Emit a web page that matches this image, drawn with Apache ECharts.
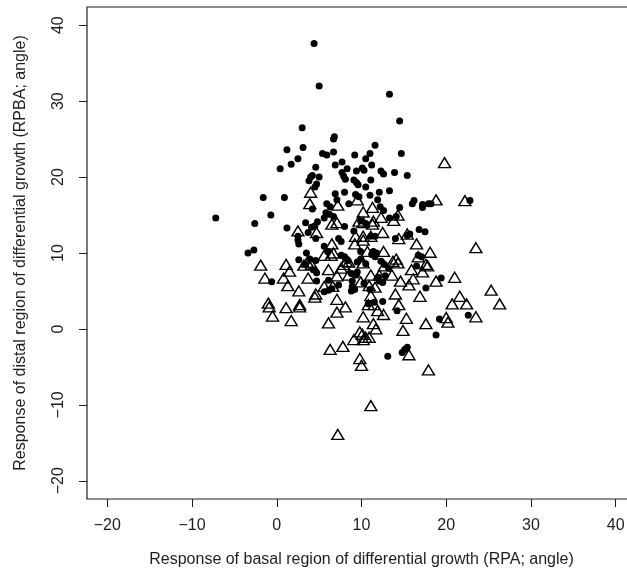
<!DOCTYPE html>
<html>
<head>
<meta charset="utf-8">
<script src="https://cdn.jsdelivr.net/npm/echarts@6/dist/echarts.min.js"></script>
<style>
html,body{margin:0;padding:0;background:#fff;}
#chart{width:627px;height:580px;}
</style>
</head>
<body>
<div id="chart"></div>
<script>
// tick values shared by both axes
var tickValues = [-20, -10, 0, 10, 20, 30, 40];

// filled dots: [RPA, RPBA]
var filledPoints = [
	[4.4,37.6],[5.0,32.0],[13.3,30.9],[14.5,27.4],[3.0,26.5],[6.8,25.3],[6.7,25.0],[1.2,23.6],[3.1,23.9],[11.6,24.2],
	[5.4,23.1],[5.9,22.9],[6.7,23.3],[14.7,23.1],[11.0,23.1],[9.2,22.9],[2.5,22.4],[10.5,22.4],[1.7,21.7],[7.7,22.0],
	[6.9,21.6],[11.2,21.6],[4.6,21.3],[0.4,21.1],[10.1,21.2],[9.4,20.8],[8.3,21.1],[10.3,20.9],[12.3,20.8],[12.6,20.4],
	[13.9,20.6],[7.7,20.6],[15.4,20.2],[4.2,20.2],[4.0,20.0],[5.0,20.0],[7.9,20.1],[8.1,19.7],[11.1,19.6],[9.1,19.6],
	[9.4,19.3],[3.8,19.5],[4.7,19.1],[9.6,19.0],[10.5,18.7],[4.5,18.7],[8.0,18.0],[6.9,17.8],[12.1,18.0],[13.3,18.2],
	[9.3,17.7],[11.0,17.6],[9.7,17.4],[-1.6,17.3],[0.9,17.3],[7.1,17.0],[11.9,17.0],[16.2,16.9],[16.0,16.5],[17.2,16.4],
	[17.2,16.0],[17.9,16.5],[18.2,16.5],[22.8,16.9],[14.5,16.0],[5.9,16.5],[6.3,16.1],[8.5,16.5],[12.2,16.1],[12.6,15.6],
	[4.2,15.8],[5.8,15.3],[6.2,15.1],[5.6,14.6],[6.7,14.8],[-0.7,15.0],[-7.2,14.6],[-2.6,13.9],[14.1,14.8],[13.3,14.6],
	[9.9,14.2],[10.5,13.9],[3.4,14.0],[4.5,13.6],[4.8,14.1],[4.1,13.4],[1.2,13.3],[8.0,13.5],[9.1,12.9],[16.8,13.1],
	[17.5,12.8],[3.7,12.7],[2.5,12.2],[2.5,11.7],[2.6,11.2],[4.6,11.9],[5.6,10.9],[7.3,11.9],[7.6,11.5],[14.0,11.9],
	[15.7,12.5],[15.4,12.3],[11.1,12.2],[11.6,12.2],[-3.4,10.0],[-2.7,10.4],[3.5,10.0],[3.9,9.2],[6.0,10.2],[7.6,9.7],
	[9.9,10.2],[11.4,10.2],[11.6,9.5],[9.9,9.2],[9.5,8.8],[2.6,9.1],[4.6,9.0],[3.4,8.5],[4.3,7.8],[4.7,7.4],
	[8.0,9.5],[8.4,9.0],[12.3,8.9],[16.5,8.3],[17.1,9.5],[16.7,9.7],[12.7,8.5],[8.8,7.3],[9.4,7.1],[-0.6,6.2],
	[4.7,6.3],[6.1,6.4],[12.1,6.3],[12.5,6.1],[19.4,6.7],[17.6,5.4],[8.8,5.0],[8.9,5.6],[6.1,5.1],[5.6,4.9],
	[12.5,3.6],[10.8,3.3],[14.2,2.4],[22.6,1.8],[19.2,1.3],[18.8,-0.8],[15.1,-2.7],[15.4,-2.4],[14.8,-3.1],[13.1,-3.6],
	[9.5,7.5],[10.3,6.0],[11.0,5.2],[11.5,3.5],[12.0,6.8],[8.9,6.3],[9.2,5.2],[13.2,8.0],[12.8,7.0],[10.5,8.6],
	[7.3,5.8],[6.5,5.3],[11.2,9.8],[11.8,10.0]
];

// open triangles: [RPA, RPBA]
var openPoints = [
	[19.8,21.9],[4.0,18.0],[3.9,16.5],[9.5,17.0],[7.2,16.3],[18.8,17.0],[22.2,16.9],[10.2,15.4],[11.3,16.0],[14.3,15.0],
	[13.8,14.3],[7.1,14.0],[6.5,13.8],[9.7,14.2],[10.2,14.0],[11.3,13.8],[11.4,14.2],[12.3,14.7],[2.5,12.9],[4.7,12.7],
	[9.3,12.2],[10.2,12.2],[11.1,12.2],[12.5,12.7],[14.4,11.9],[15.4,12.5],[23.5,10.7],[6.5,11.2],[9.2,11.2],[10.2,11.7],
	[16.5,11.2],[18.1,10.1],[12.6,10.2],[10.7,10.2],[6.7,10.0],[5.6,9.7],[6.4,9.7],[-1.9,8.4],[1.1,8.5],[1.5,7.6],
	[3.6,8.8],[4.1,8.5],[3.2,8.4],[8.2,8.9],[7.9,8.5],[8.5,8.8],[10.2,8.7],[12.7,8.3],[14.1,9.2],[13.7,8.9],
	[14.3,8.7],[16.7,9.5],[17.6,8.5],[17.8,8.3],[-1.4,6.7],[0.8,6.7],[1.3,5.7],[3.7,6.7],[6.1,7.8],[7.1,7.0],
	[7.6,8.0],[8.5,7.1],[9.9,6.2],[11.1,7.1],[12.1,7.1],[13.6,7.1],[14.6,6.3],[15.6,5.8],[15.9,7.8],[17.2,7.5],
	[16.1,6.6],[21.0,6.8],[18.8,6.3],[2.6,5.0],[4.6,4.6],[4.5,4.2],[5.6,5.6],[6.6,5.6],[7.1,3.9],[10.9,5.7],
	[11.6,5.5],[11.1,4.4],[14.0,4.6],[16.9,4.3],[25.3,5.1],[21.6,4.3],[-1.0,3.4],[-0.9,2.9],[1.1,2.8],[2.7,3.2],
	[2.7,2.9],[8.1,2.9],[7.1,2.2],[10.8,3.2],[11.5,3.2],[11.9,2.4],[12.6,1.9],[14.4,3.2],[20.7,3.3],[22.4,3.3],
	[26.3,3.3],[-0.5,1.7],[1.7,1.1],[6.1,0.8],[10.2,1.6],[11.4,0.7],[11.7,0.0],[15.3,1.4],[14.9,-0.2],[17.6,0.7],
	[20.0,1.5],[20.2,0.9],[23.5,1.6],[9.8,-0.4],[10.1,-0.7],[10.5,-1.1],[9.1,-1.4],[10.9,-1.1],[10.2,-1.4],[6.3,-2.7],
	[7.8,-2.3],[15.6,-3.4],[9.8,-3.9],[10.0,-4.8],[17.9,-5.4],[11.1,-10.1],[7.2,-13.9]
];

var ink = '#1e1e1e';
var fontName = 'Liberation Sans';
var minusFmt = function (v) { return String(v).replace('-', '\u2212'); };

var chart = echarts.init(document.getElementById('chart'));
var axisCommon = {
	type: 'value',
	min: -22.4,
	max: 42.4,
	splitLine: {show: false},
	axisLine: {show: false, onZero: false},
	axisTick: {show: true, length: 8, inside: false, customValues: tickValues, lineStyle: {color: ink, width: 1}},
	nameLocation: 'middle',
	nameTextStyle: {color: ink, fontFamily: fontName, fontSize: 16}
};
var option = {
	animation: false,
	backgroundColor: '#fff',
	grid: {
		show: true,
		left: 87,
		top: 7,
		width: 549,
		height: 492,
		outerBoundsMode: 'none',
		borderColor: ink,
		borderWidth: 1.2,
		backgroundColor: '#fff'
	},
	xAxis: echarts.util.merge({
		name: 'Response of basal region of differential growth (RPA; angle)',
		nameGap: 53,
		axisLabel: {customValues: tickValues, margin: 19, color: ink, fontFamily: fontName, fontSize: 16, formatter: minusFmt}
	}, axisCommon),
	yAxis: echarts.util.merge({
		name: 'Response of distal region of differential growth (RPBA; angle)',
		nameGap: 58,
		axisLabel: {customValues: tickValues, margin: 20, rotate: 90, color: ink, fontFamily: fontName, fontSize: 16, formatter: minusFmt}
	}, axisCommon),
	series: [
		{
			name: 'filled',
			type: 'scatter',
			symbol: 'circle',
			symbolSize: 7,
			itemStyle: {color: '#000', opacity: 1},
			data: filledPoints
		},
		{
			name: 'open',
			type: 'scatter',
			symbol: 'triangle',
			symbolSize: [12, 10],
			itemStyle: {color: 'rgba(255,255,255,0)', borderColor: '#000', borderWidth: 1.4, opacity: 1},
			data: openPoints
		}
	]
};
chart.setOption(option);
</script>
</body>
</html>
